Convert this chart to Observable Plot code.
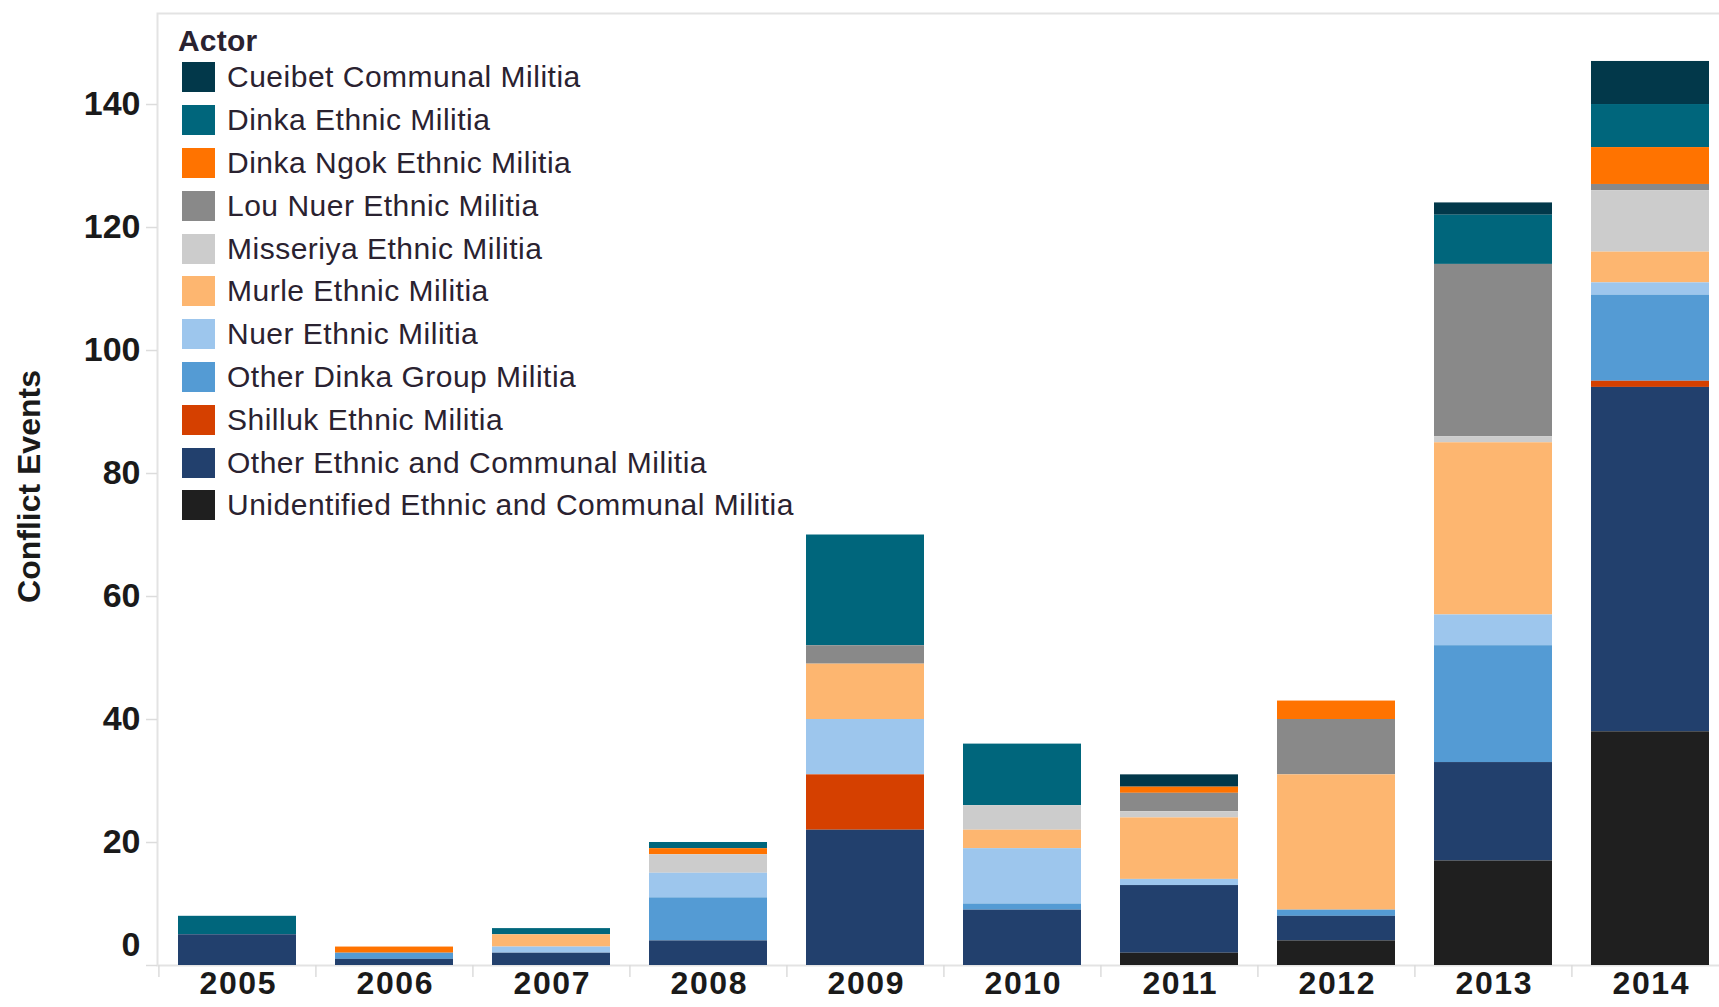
<!DOCTYPE html>
<html>
<head>
<meta charset="utf-8">
<script src="https://cdn.jsdelivr.net/npm/d3@7"></script>
<script src="https://cdn.jsdelivr.net/npm/@observablehq/plot@0.6"></script>
<style>
  html, body { margin: 0; padding: 0; background: #fff; overflow: hidden; }
  #wrap { position: relative; width: 1719px; height: 1007px; overflow: hidden; }
  #chart { position: absolute; left: 0; top: 0; width: 1729px; }
  #chart svg { max-width: none !important; display: block; }
  #chart g[aria-label="x-axis tick label"] text { letter-spacing: 1.6px; }
  #legend { position: absolute; left: 178px; top: 20px; font-family: "Liberation Sans", Arial, sans-serif; color: #2a2230; }
  #legend .title { height: 33px; padding-top: 3px; line-height: 36px; font-weight: bold; font-size: 30px; letter-spacing: 0.2px; }
  #legend .item { height: 42.8px; display: flex; align-items: center; font-size: 30px; letter-spacing: 0.5px; }
  #legend .sw { width: 33px; height: 30px; margin-left: 4px; margin-right: 12px; flex: none; }
</style>
</head>
<body>
<div id="wrap">
  <div id="chart"></div>
  <div id="legend"></div>
</div>
<script>
// ---- Data ----
const years = ["2005", "2006", "2007", "2008", "2009", "2010", "2011", "2012", "2013", "2014"];
const actors = [
  "Cueibet Communal Militia",
  "Dinka Ethnic Militia",
  "Dinka Ngok Ethnic Militia",
  "Lou Nuer Ethnic Militia",
  "Misseriya Ethnic Militia",
  "Murle Ethnic Militia",
  "Nuer Ethnic Militia",
  "Other Dinka Group Militia",
  "Shilluk Ethnic Militia",
  "Other Ethnic and Communal Militia",
  "Unidentified Ethnic and Communal Militia"
];
const colors = ["#02384a", "#00667c", "#ff7300", "#898989", "#cccccc", "#fdb670", "#9dc6ed", "#549bd4", "#d54000", "#22406d", "#1f1f1f"];

const cueibet      = [0, 0, 0, 0, 0, 0, 2, 0, 2, 7];
const dinka        = [3, 0, 1, 1, 18, 10, 0, 0, 8, 7];
const dinkaNgok    = [0, 1, 0, 1, 0, 0, 1, 3, 0, 6];
const louNuer      = [0, 0, 0, 0, 3, 0, 3, 9, 28, 1];
const misseriya    = [0, 0, 0, 3, 0, 4, 1, 0, 1, 10];
const murle        = [0, 0, 2, 0, 9, 3, 10, 22, 28, 5];
const nuer         = [0, 0, 1, 4, 9, 9, 1, 0, 5, 2];
const otherDinka   = [0, 1, 0, 7, 0, 1, 0, 1, 19, 14];
const shilluk      = [0, 0, 0, 0, 9, 0, 0, 0, 0, 1];
const otherEthnic  = [5, 1, 2, 4, 22, 9, 11, 4, 16, 56];
const unidentified = [0, 0, 0, 0, 0, 0, 2, 4, 17, 38];

const yTicks = [0, 20, 40, 60, 80, 100, 120, 140];
const yLabel = "Conflict Events";
const legendTitle = "Actor";

const series = [cueibet, dinka, dinkaNgok, louNuer, misseriya, murle, nuer, otherDinka, shilluk, otherEthnic, unidentified];
const rows = [];
actors.forEach((a, i) => years.forEach((y, j) => rows.push({actor: a, year: y, value: series[i][j]})));
const stackOrder = actors.slice().reverse();

// ---- Layout ----
const W = 1729, H = 1007, mL = 157, mR = 0, mT = 13, mB = 42;
const step = (W - mL - mR) / years.length;
const font = "'Liberation Sans', Arial, sans-serif";
const ink = "#1a1a1a";

const chart = Plot.plot({
  width: W, height: H,
  marginLeft: mL, marginRight: mR, marginTop: mT, marginBottom: mB,
  style: {fontFamily: font, background: "#fff", overflow: "visible", maxWidth: "none"},
  x: {type: "band", domain: years, paddingInner: 0.25, paddingOuter: 0.125, align: 0.5},
  y: {domain: [0, 154.8]},
  color: {domain: actors, range: colors},
  marks: [
    Plot.frame({stroke: "#e3e3e3", strokeWidth: 2}),
    Plot.barY(rows, {x: "year", y: "value", fill: "actor", order: stackOrder}),
    Plot.axisY(yTicks, {tickSize: 11, tickFormat: () => "", stroke: "#dcdcdc", strokeWidth: 1.5, label: null}),
    Plot.axisY(yTicks.filter(v => v > 0), {tickSize: 0, tickPadding: 17, fontSize: 34, fontWeight: "bold", fill: ink, label: null}),
    Plot.axisY(yTicks.filter(v => v === 0), {tickSize: 0, tickPadding: 17, dy: -20, fontSize: 34, fontWeight: "bold", fill: ink, label: null}),
    Plot.axisX({tickSize: 0, tickPadding: 6, dx: 0.8, fontSize: 32, fontWeight: "bold", fill: ink, label: null}),
    Plot.axisX({tickSize: 12, tickFormat: () => "", dx: -step / 2, stroke: "#dcdcdc", strokeWidth: 1.5, label: null}),
    Plot.text([yLabel], {frameAnchor: "left", textAnchor: "middle", lineAnchor: "middle", rotate: -90, dx: -128, dy: -3, fontSize: 32, fontWeight: "bold", fill: ink})
  ]
});
document.getElementById("chart").appendChild(chart);

// ---- Legend ----
const lg = document.getElementById("legend");
const t = document.createElement("div");
t.className = "title";
t.textContent = legendTitle;
lg.appendChild(t);
actors.forEach((a, i) => {
  const r = document.createElement("div");
  r.className = "item";
  const s = document.createElement("div");
  s.className = "sw";
  s.style.background = colors[i];
  const l = document.createElement("span");
  l.textContent = a;
  r.appendChild(s);
  r.appendChild(l);
  lg.appendChild(r);
});
</script>
</body>
</html>
